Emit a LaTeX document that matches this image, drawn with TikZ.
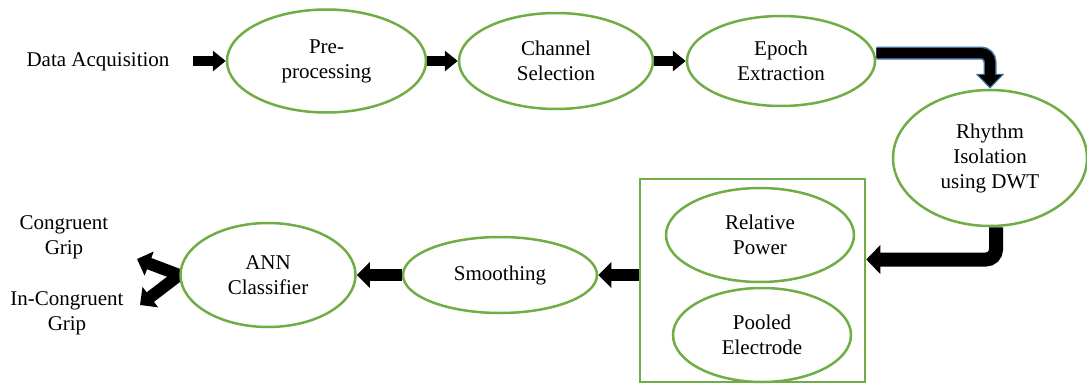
\documentclass[tikz,border=0pt]{standalone}
\usepackage{fontspec}
\setmainfont{Liberation Serif}
\usetikzlibrary{arrows.meta,positioning,shapes.geometric,backgrounds}
\definecolor{leafgreen}{RGB}{112,173,71}
\definecolor{edgeblue}{RGB}{65,113,156}

\begin{document}
\begin{tikzpicture}[
    x=1pt, y=-1pt,
    stage/.style={
      ellipse, draw=leafgreen, line width=2.5pt, fill=white,
      inner sep=0pt, align=center,
      font=\fontsize{21}{25}\selectfont,
    },
    caption/.style={align=center, inner sep=0pt, font=\fontsize{21}{25}\selectfont},
    fat/.style={line width=10pt, -{Triangle[length=13pt,width=20pt]}},
    fatter/.style={line width=12pt, -{Triangle[length=13pt,width=25pt]}},
  ]
  \useasboundingbox (0,0) rectangle (1087,383);

  %% --- top row ---
  \node[caption] (acq) at (98,62) {Data Acquisition};
  \node[stage, minimum width=199pt, minimum height=103pt] (pre) at (326.5,61) {Pre-\\processing};
  \node[stage, minimum width=194pt, minimum height=96pt] (chan) at (556,61) {Channel\\Selection};
  \node[stage, minimum width=188pt, minimum height=90pt] (epoch) at (781,61) {Epoch\\Extraction};

  %% --- right side ---
  \node[stage, minimum width=194pt, minimum height=136pt] (rhythm) at (990,158) {Rhythm\\Isolation\\using DWT};

  %% --- feature box ---
  \node[draw=leafgreen, line width=2.5pt, minimum width=225pt, minimum height=203pt, inner sep=0pt] (feat) at (752.5,280.5) {};
  \node[stage, minimum width=188pt, minimum height=94pt] (relp) at (760,235) {Relative\\Power};
  \node[stage, minimum width=178pt, minimum height=94pt] (pool) at (762,335) {Pooled\\Electrode};

  %% --- bottom row ---
  \node[stage, minimum width=194pt, minimum height=76pt] (smooth) at (500,275) {Smoothing};
  \node[stage, minimum width=175pt, minimum height=104pt] (ann) at (268,275) {ANN\\Classifier};
  \node[caption] (cg) at (64,237) {Congruent\\Grip};
  \node[caption] (icg) at (67,313) {In-Congruent\\Grip};
  \coordinate (cgtip) at (137,259);
  \coordinate (icgtip) at (140,305);

  %% --- arrows ---
  \draw[fat] ([xshift=23pt]acq.east |- pre.west) -- (pre.west);
  \draw[fat] (pre.east) -- (chan.west);
  \draw[fat] (chan.east) -- (epoch.west);

  \draw[edgeblue, line width=13pt, rounded corners=9pt, -{Triangle[length=15pt,width=28pt]}]
    ([yshift=8pt]epoch.east) -| (rhythm.north);
  \draw[black, line width=10pt, rounded corners=9pt, shorten >=2pt, -{Triangle[length=12pt,width=23pt]}]
    ([yshift=8pt]epoch.east) -| (rhythm.north);

  \draw[line width=14pt, rounded corners=10pt, -{Triangle[length=14pt,width=28pt]}]
    ([xshift=6pt]rhythm.south) |- ([yshift=21pt]feat.east);

  \draw[fatter] (feat.west |- smooth.east) -- (smooth.east);
  \draw[fatter] (smooth.west) -- (ann.east);

  \begin{scope}[on background layer]
    \draw[line width=12pt, {Triangle[length=13pt,width=25pt]}-{Triangle[length=13pt,width=25pt]}]
      (cgtip) -- (ann.west) -- (icgtip);
  \end{scope}
\end{tikzpicture}
\end{document}
